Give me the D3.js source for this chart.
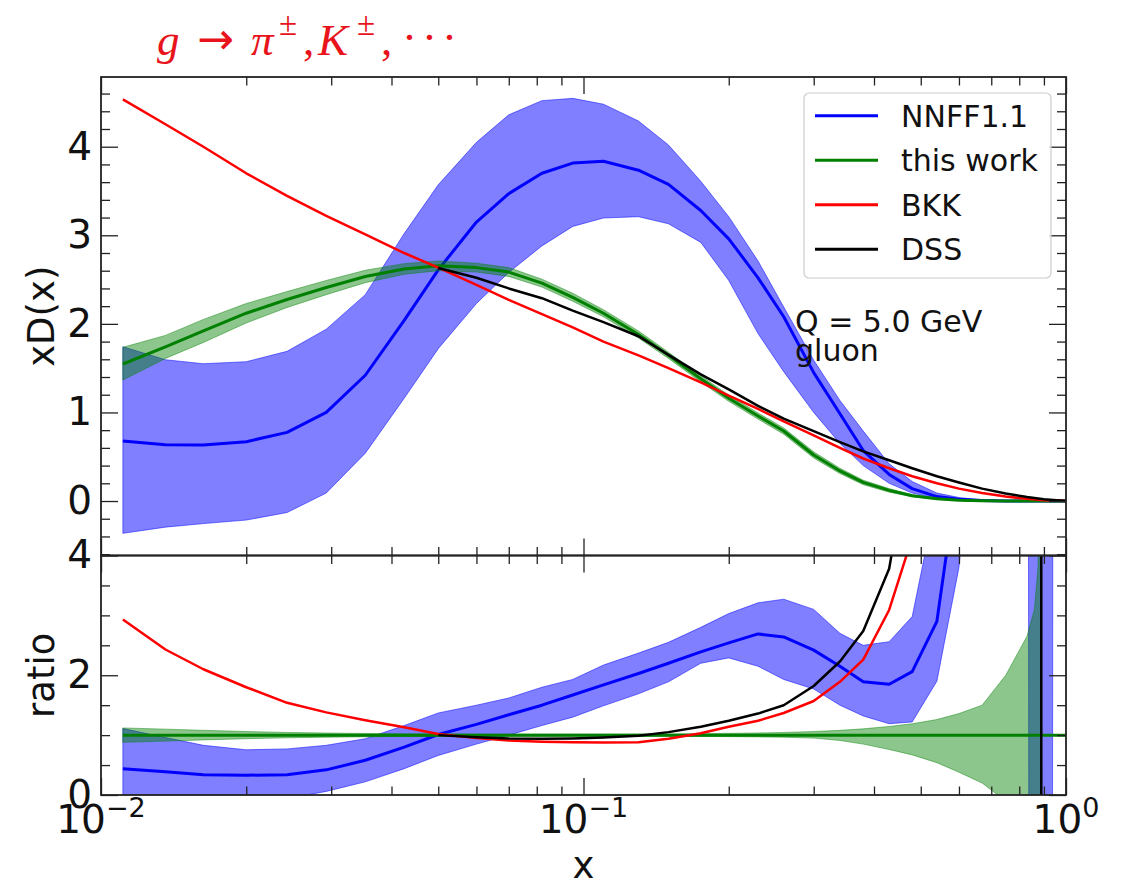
<!DOCTYPE html>
<html>
<head>
<meta charset="utf-8">
<script src="https://cdn.jsdelivr.net/npm/d3@7"></script>
<style>
body { margin: 0; background: #fff; }
</style>
</head>
<body>
<svg id="plot" width="1121" height="884"></svg>
<script>
//x grid shared by the upper panel curves
let xs = [0.0111, 0.0136, 0.0163, 0.02, 0.0243, 0.0293, 0.0353, 0.0425, 0.05, 0.06, 0.07, 0.082, 0.095, 0.11, 0.13, 0.15, 0.175, 0.2, 0.23, 0.26, 0.3, 0.34, 0.38, 0.43, 0.48, 0.54, 0.6, 0.67, 0.75, 0.83, 0.9, 1.0];

//NNFF1.1 central value and band
let nnff_mid = [0.677, 0.634, 0.632, 0.67, 0.775, 1.0, 1.42, 2.04, 2.61, 3.15, 3.47, 3.70, 3.815, 3.835, 3.735, 3.575, 3.28, 2.96, 2.52, 2.08, 1.45, 0.985, 0.57, 0.30, 0.14, 0.05, 0.02, 0.005, 0, 0, 0, 0];
let nnff_hi = [1.742, 1.595, 1.55, 1.573, 1.69, 1.94, 2.33, 3.02, 3.57, 4.05, 4.36, 4.52, 4.546, 4.48, 4.29, 4.02, 3.61, 3.21, 2.71, 2.19, 1.59, 1.135, 0.79, 0.42, 0.22, 0.09, 0.04, 0.012, 0.003, 0, 0, 0];
let nnff_lo = [-0.365, -0.295, -0.255, -0.215, -0.13, 0.09, 0.54, 1.16, 1.72, 2.23, 2.58, 2.88, 3.10, 3.195, 3.21, 3.13, 2.92, 2.49, 1.89, 1.46, 1.0, 0.65, 0.40, 0.20, 0.09, 0.03, 0.008, 0, 0, 0, 0, 0];

//this work central value and band
let work_mid = [1.547, 1.74, 1.92, 2.12, 2.275, 2.41, 2.535, 2.62, 2.655, 2.635, 2.585, 2.46, 2.30, 2.12, 1.88, 1.645, 1.38, 1.16, 0.96, 0.79, 0.52, 0.34, 0.21, 0.12, 0.06, 0.025, 0.01, 0.004, 0.001, 0, 0, 0];
let work_hi = [1.735, 1.87, 2.05, 2.23, 2.365, 2.49, 2.605, 2.68, 2.71, 2.685, 2.635, 2.505, 2.345, 2.16, 1.92, 1.68, 1.415, 1.195, 0.995, 0.825, 0.555, 0.37, 0.235, 0.14, 0.072, 0.032, 0.014, 0.006, 0.002, 0, 0, 0];
let work_lo = [1.366, 1.61, 1.79, 2.01, 2.185, 2.33, 2.465, 2.56, 2.60, 2.585, 2.535, 2.415, 2.255, 2.08, 1.84, 1.61, 1.345, 1.125, 0.925, 0.755, 0.485, 0.31, 0.185, 0.10, 0.048, 0.018, 0.006, 0.002, 0, 0, 0, 0];

//BKK
let bkk = [4.535, 4.254, 4.0, 3.70, 3.445, 3.22, 3.01, 2.80, 2.635, 2.44, 2.27, 2.11, 1.96, 1.80, 1.645, 1.50, 1.34, 1.19, 1.04, 0.90, 0.74, 0.60, 0.48, 0.37, 0.28, 0.20, 0.14, 0.09, 0.05, 0.025, 0.01, 0.0];

//DSS (only from x = 0.05)
let dss_x = [0.05, 0.06, 0.07, 0.082, 0.095, 0.11, 0.13, 0.15, 0.175, 0.2, 0.23, 0.26, 0.3, 0.34, 0.38, 0.43, 0.48, 0.54, 0.6, 0.67, 0.75, 0.83, 0.9, 1.0];
let dss = [2.63, 2.52, 2.40, 2.29, 2.15, 2.02, 1.86, 1.65, 1.43, 1.26, 1.075, 0.93, 0.79, 0.665, 0.56, 0.46, 0.37, 0.28, 0.21, 0.14, 0.085, 0.045, 0.02, 0.0];

//ratio panel, NNFF1.1 band (values far outside [0,4] are off the panel)
let rb_x = [0.0111, 0.0136, 0.0163, 0.02, 0.0243, 0.0293, 0.0353, 0.0425, 0.05, 0.06, 0.07, 0.082, 0.095, 0.11, 0.13, 0.15, 0.175, 0.2, 0.23, 0.26, 0.3, 0.34, 0.38, 0.43, 0.48, 0.54, 0.6, 0.67, 0.835, 0.84, 0.935, 0.94, 1.0];
let rb_hi = [1.11, 0.96, 0.83, 0.755, 0.77, 0.83, 0.94, 1.16, 1.37, 1.50, 1.62, 1.80, 1.93, 2.17, 2.37, 2.55, 2.80, 3.03, 3.21, 3.27, 3.10, 2.70, 2.50, 2.56, 2.98, 5, 10, 20, 40, 40, 40, 40, 40];
let rb_lo = [-0.24, -0.17, -0.13, -0.10, -0.06, 0.06, 0.22, 0.44, 0.66, 0.85, 1.00, 1.16, 1.30, 1.49, 1.69, 1.89, 2.20, 2.29, 2.15, 1.93, 1.77, 1.50, 1.32, 1.19, 1.22, 1.90, 3.8, 8, 8, -10, -10, 8, 8];
//ratio panel, NNFF1.1 central (on xs)
let rb_mid = [0.44, 0.39, 0.34, 0.33, 0.34, 0.42, 0.58, 0.80, 1.01, 1.18, 1.34, 1.50, 1.67, 1.84, 2.03, 2.20, 2.39, 2.54, 2.69, 2.64, 2.42, 2.15, 1.89, 1.85, 2.06, 2.9, 5.5];

//ratio panel, this work band
let rg_x = [0.0111, 0.0136, 0.0163, 0.02, 0.0243, 0.0293, 0.0353, 0.0425, 0.05, 0.06, 0.07, 0.082, 0.095, 0.11, 0.13, 0.15, 0.175, 0.2, 0.23, 0.26, 0.3, 0.34, 0.38, 0.43, 0.48, 0.54, 0.6, 0.67, 0.75, 0.83, 0.86, 0.875, 0.885, 0.889];
let rg_hi = [1.12, 1.10, 1.08, 1.06, 1.045, 1.035, 1.028, 1.022, 1.02, 1.018, 1.018, 1.018, 1.018, 1.018, 1.018, 1.02, 1.025, 1.03, 1.036, 1.045, 1.06, 1.08, 1.105, 1.145, 1.19, 1.26, 1.36, 1.50, 2.0, 2.65, 3.1, 3.8, 5.5, 21];
let rg_lo = [0.88, 0.90, 0.92, 0.94, 0.955, 0.965, 0.972, 0.978, 0.98, 0.982, 0.982, 0.982, 0.982, 0.982, 0.982, 0.98, 0.978, 0.975, 0.97, 0.965, 0.95, 0.91, 0.85, 0.76, 0.67, 0.54, 0.38, 0.20, -0.1, -0.65, -1.1, -1.8, -3.5, -19];
let rg_line_x = [0.0111, 1.0];
let rg_line = [1, 1];

//ratio panel, BKK (on xs)
let rr = [2.93, 2.43, 2.10, 1.80, 1.54, 1.38, 1.25, 1.13, 1.02, 0.95, 0.91, 0.89, 0.88, 0.875, 0.88, 0.94, 1.03, 1.14, 1.24, 1.37, 1.57, 1.89, 2.26, 3.09, 4.3, 8, 15];

//ratio panel, DSS
let rk_x = [0.05, 0.06, 0.07, 0.082, 0.095, 0.11, 0.13, 0.15, 0.175, 0.2, 0.23, 0.26, 0.3, 0.34, 0.38, 0.43, 0.48, 0.54, 0.6, 0.67, 0.75, 0.83, 0.888, 0.8895, 0.9, 1.0];
let rk = [1.0, 0.965, 0.945, 0.94, 0.945, 0.96, 0.99, 1.05, 1.14, 1.24, 1.36, 1.50, 1.82, 2.23, 2.74, 3.78, 6, 10, 16, 25, 40, 80, 300, -300, -200, -100];

//tick labels and legend text
let top_ticks = [0, 1, 2, 3, 4];
let ratio_ticks = [0, 2, 4];
let x_major = [0.01, 0.1, 1];
let x_exp = ["\u22122", "\u22121", "0"];
let legend_names = ["NNFF1.1", "this work", "BKK", "DSS"];

//colors
let c_blue = "#0000ff", c_green = "#008000", c_red = "#ff0000", c_black = "#000000";
let legend_colors = [c_blue, c_green, c_red, c_black];

let svg = d3.select("#plot");

//bounds of the two panels
let plot_left = 101, plot_right = 1066;
let top_y0 = 77, top_y1 = 555.5, bot_y1 = 795;
let font = "DejaVu Sans, sans-serif";
let axis_color = "#222";

//scales
let x_scale = d3.scaleLog([0.01, 1], [plot_left, plot_right]);
let y_top = d3.scaleLinear([-0.615, 4.787], [top_y1, top_y0]);
let y_bot = d3.scaleLinear([0, 4], [bot_y1, top_y1]);

//clip regions for the two panels
let defs = svg.append("defs");
defs.append("clipPath").attr("id", "clipTop").append("rect")
    .attr("x", plot_left).attr("y", top_y0).attr("width", plot_right - plot_left).attr("height", top_y1 - top_y0);
defs.append("clipPath").attr("id", "clipBot").append("rect")
    .attr("x", plot_left).attr("y", top_y1).attr("width", plot_right - plot_left).attr("height", bot_y1 - top_y1);

//draw a filled band between lo and hi
function band(g, xv, lo, hi, y, color, op) {
    let pts = d3.zip(xv, lo, hi);
    let area = d3.area()
        .x(d => x_scale(d[0]))
        .y0(d => y(d[1]))
        .y1(d => y(d[2]));
    g.append("path").datum(pts)
        .attr("d", area)
        .attr("fill", color).attr("fill-opacity", op)
        .attr("stroke", color).attr("stroke-opacity", op).attr("stroke-width", 1);
}

//draw a line
function curve(g, xv, yv, y, color, w) {
    let pts = d3.zip(xv, yv);
    let line = d3.line().x(d => x_scale(d[0])).y(d => y(d[1]));
    g.append("path").datum(pts)
        .attr("d", line)
        .attr("fill", "none")
        .attr("stroke", color).attr("stroke-width", w)
        .attr("stroke-linejoin", "round");
}

//upper panel
let gTop = svg.append("g").attr("clip-path", "url(#clipTop)");
band(gTop, xs, nnff_lo, nnff_hi, y_top, c_blue, 0.5);
curve(gTop, xs, nnff_mid, y_top, c_blue, 3);
band(gTop, xs, work_lo, work_hi, y_top, c_green, 0.45);
curve(gTop, xs, work_mid, y_top, c_green, 3);
curve(gTop, xs, bkk, y_top, c_red, 2.5);
curve(gTop, dss_x, dss, y_top, c_black, 2.5);

//ratio panel
let gBot = svg.append("g").attr("clip-path", "url(#clipBot)");
band(gBot, rb_x, rb_lo, rb_hi, y_bot, c_blue, 0.5);
curve(gBot, xs, rb_mid, y_bot, c_blue, 3);
band(gBot, rg_x, rg_lo, rg_hi, y_bot, c_green, 0.45);
curve(gBot, rg_line_x, rg_line, y_bot, c_green, 3);
curve(gBot, xs, rr, y_bot, c_red, 2.5);
curve(gBot, rk_x, rk, y_bot, c_black, 2.5);

//ticks, all pointing inwards
let x_minor = x_scale.ticks().filter(v => x_major.indexOf(v) < 0);

function style_axis(g) {
    g.select(".domain").remove();
    g.selectAll("line").attr("stroke", axis_color).attr("stroke-width", 1.3);
}

function y_ticks(y, major, minor, labels) {
    let left = svg.append("g").attr("transform", `translate(${plot_left},0)`)
        .call(d3.axisLeft(y).tickValues(major).tickSize(-17).tickPadding(9)
            .tickFormat(labels ? d3.format("d") : ""));
    style_axis(left);
    left.selectAll("text").attr("font-size", 39).attr("font-family", font).attr("fill", "#111");
    svg.append("g").attr("transform", `translate(${plot_left},0)`)
        .call(d3.axisLeft(y).tickValues(minor).tickSize(-9).tickFormat("")).call(style_axis);
    svg.append("g").attr("transform", `translate(${plot_right},0)`)
        .call(d3.axisRight(y).tickValues(major).tickSize(-17).tickFormat("")).call(style_axis);
    svg.append("g").attr("transform", `translate(${plot_right},0)`)
        .call(d3.axisRight(y).tickValues(minor).tickSize(-9).tickFormat("")).call(style_axis);
}

function x_ticks(ypos, maker) {
    svg.append("g").attr("transform", `translate(0,${ypos})`)
        .call(maker(x_scale).tickValues(x_major).tickSize(-17).tickFormat("")).call(style_axis);
    svg.append("g").attr("transform", `translate(0,${ypos})`)
        .call(maker(x_scale).tickValues(x_minor).tickSize(-8.5).tickFormat("")).call(style_axis);
}

let top_minor = d3.range(-6, 48, 2).map(v => v / 10).filter(v => v % 1 !== 0);
let bot_minor = [0.5, 1, 1.5, 2.5, 3, 3.5];
y_ticks(y_top, top_ticks, top_minor, true);
y_ticks(y_bot, ratio_ticks, bot_minor, true);
x_ticks(top_y0, d3.axisTop);
x_ticks(top_y1, d3.axisBottom);
x_ticks(top_y1, d3.axisTop);
x_ticks(bot_y1, d3.axisBottom);

//frames
[[top_y0, top_y1], [top_y1, bot_y1]].forEach(([a, b]) => {
    svg.append("rect")
        .attr("x", plot_left).attr("y", a)
        .attr("width", plot_right - plot_left).attr("height", b - a)
        .attr("fill", "none").attr("stroke", axis_color).attr("stroke-width", 1.8);
});

//x tick labels 10^n
let xl = svg.append("g").selectAll("text")
    .data(x_major)
    .join("text")
    .attr("x", d => x_scale(d))
    .attr("y", bot_y1 + 38)
    .attr("text-anchor", "middle")
    .attr("font-family", font)
    .attr("font-size", 39)
    .attr("fill", "#111");
xl.append("tspan").text("10");
xl.append("tspan").attr("dy", -16).attr("font-size", 27).text((d, i) => x_exp[i]);

//axis labels
svg.append("text")
    .attr("transform", `translate(54,${(top_y0 + top_y1) / 2}) rotate(-90)`)
    .attr("text-anchor", "middle").attr("font-family", font).attr("font-size", 37).attr("fill", "#111")
    .text("xD(x)");
svg.append("text")
    .attr("transform", `translate(54,${(top_y1 + bot_y1) / 2}) rotate(-90)`)
    .attr("text-anchor", "middle").attr("font-family", font).attr("font-size", 37).attr("fill", "#111")
    .text("ratio");
svg.append("text")
    .attr("x", x_scale(0.1)).attr("y", 878)
    .attr("text-anchor", "middle").attr("font-family", font).attr("font-size", 37).attr("fill", "#111")
    .text("x");

//legend
let leg = svg.append("g");
leg.append("rect")
    .attr("x", 804).attr("y", 93).attr("width", 247).attr("height", 185).attr("rx", 5)
    .attr("fill", "#fff").attr("fill-opacity", 0.8)
    .attr("stroke", "#cccccc").attr("stroke-width", 1.2);
legend_names.forEach((name, i) => {
    let ly = 115.7 + i * 44.5;
    leg.append("line")
        .attr("x1", 815).attr("x2", 878).attr("y1", ly).attr("y2", ly)
        .attr("stroke", legend_colors[i]).attr("stroke-width", 3);
    leg.append("text")
        .attr("x", 901).attr("y", ly + 11)
        .attr("font-family", font).attr("font-size", 30).attr("fill", "#111")
        .text(name);
});

//annotation
svg.append("text").attr("x", 795).attr("y", 332)
    .attr("font-family", font).attr("font-size", 30).attr("fill", "#111")
    .text("Q = 5.0 GeV");
svg.append("text").attr("x", 795).attr("y", 361)
    .attr("font-family", font).attr("font-size", 30).attr("fill", "#111")
    .text("gluon");

//title  g -> pi+-, K+-, ...
let title = svg.append("text")
    .attr("y", 55)
    .attr("fill", "#e8131b")
    .attr("font-family", "Liberation Serif, serif")
    .attr("font-size", 45);
title.append("tspan").attr("x", 157).attr("font-style", "italic").text("g");
title.append("tspan").attr("x", 197).attr("dy", -1).attr("font-family", font).attr("font-size", 44).text("\u2192");
title.append("tspan").attr("x", 251).attr("dy", 1).attr("font-style", "italic").text("\u03c0");
title.append("tspan").attr("x", 279).attr("dy", -20).attr("font-size", 33).text("\u00b1");
title.append("tspan").attr("x", 303).attr("dy", 20).text(",");
title.append("tspan").attr("x", 318).attr("font-style", "italic").text("K");
title.append("tspan").attr("x", 357).attr("dy", -20).attr("font-size", 33).text("\u00b1");
title.append("tspan").attr("x", 381).attr("dy", 20).text(",");
title.append("tspan").attr("x", 402).attr("dy", -3).attr("letter-spacing", 5).text("\u00b7\u00b7\u00b7");
</script>
</body>
</html>
